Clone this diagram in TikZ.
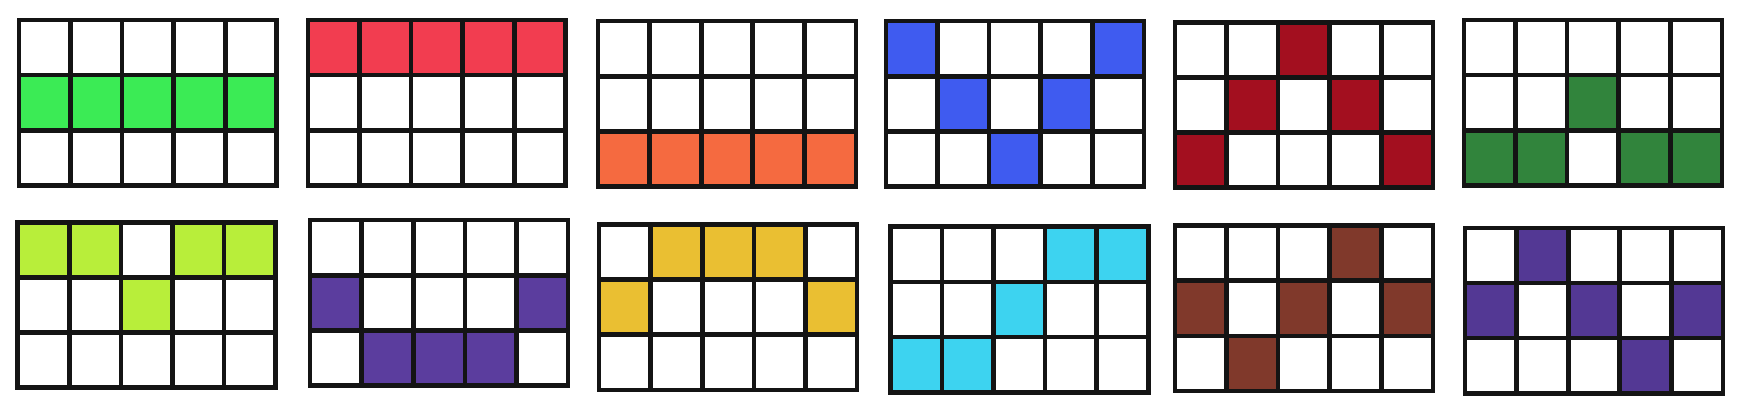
\documentclass[tikz,border=0pt]{standalone}
\definecolor{linec}{HTML}{141414}
\definecolor{cA}{HTML}{3BEB55}
\definecolor{cB}{HTML}{F23D50}
\definecolor{cC}{HTML}{F56A40}
\definecolor{cD}{HTML}{3F5BF0}
\definecolor{cE}{HTML}{A30F1F}
\definecolor{cF}{HTML}{31843C}
\definecolor{cG}{HTML}{B8EE3A}
\definecolor{cH}{HTML}{5B3D9E}
\definecolor{cI}{HTML}{EABF32}
\definecolor{cJ}{HTML}{3DD3F0}
\definecolor{cK}{HTML}{80392B}
\definecolor{cL}{HTML}{533894}
\newcommand\cellgrid[5]{%
  \foreach \r in {0,1,2}{%
    \foreach \c in {0,...,4}{%
      \gdef\cellfill{white}%
      \foreach \p/\q in {#5}{\ifnum\p=\r\relax\ifnum\q=\c\relax\gdef\cellfill{#4}\fi\fi}%
      \pgfmathsetmacro\cx{#2+46.4*(\c+0.5)}%
      \pgfmathsetmacro\cy{#3+49.6*(\r+0.5)}%
      \node[cell, fill=\cellfill] (#1-\r-\c) at (\cx,\cy) {};
    }%
  }%
}
\begin{document}
\begin{tikzpicture}[x=0.01cm,y=-0.01cm,
  cell/.style={draw=linec, line width=0.042cm, rectangle, inner sep=0pt, outer sep=0pt,
    minimum width=0.464cm, minimum height=0.496cm}]
\useasboundingbox (0,0) rectangle (1568,374);
\cellgrid{ga}{17}{18}{cA}{1/0,1/1,1/2,1/3,1/4}
\cellgrid{gb}{277}{18}{cB}{0/0,0/1,0/2,0/3,0/4}
\cellgrid{gc}{538}{19}{cC}{2/0,2/1,2/2,2/3,2/4}
\cellgrid{gd}{797}{19}{cD}{0/0,0/4,1/1,1/3,2/2}
\cellgrid{ge}{1057}{20}{cE}{0/2,1/1,1/3,2/0,2/4}
\cellgrid{gf}{1317}{18}{cF}{1/2,2/0,2/1,2/3,2/4}
\cellgrid{gg}{16}{200}{cG}{0/0,0/1,0/3,0/4,1/2}
\cellgrid{gh}{279}{198}{cH}{1/0,1/4,2/1,2/2,2/3}
\cellgrid{gi}{539}{202}{cI}{0/1,0/2,0/3,1/0,1/4}
\cellgrid{gj}{801}{204}{cJ}{0/3,0/4,1/2,2/0,2/1}
\cellgrid{gk}{1057}{203}{cK}{0/3,1/0,1/2,1/4,2/1}
\cellgrid{gl}{1318}{205}{cL}{0/1,1/0,1/2,1/4,2/3}
\end{tikzpicture}
\end{document}
